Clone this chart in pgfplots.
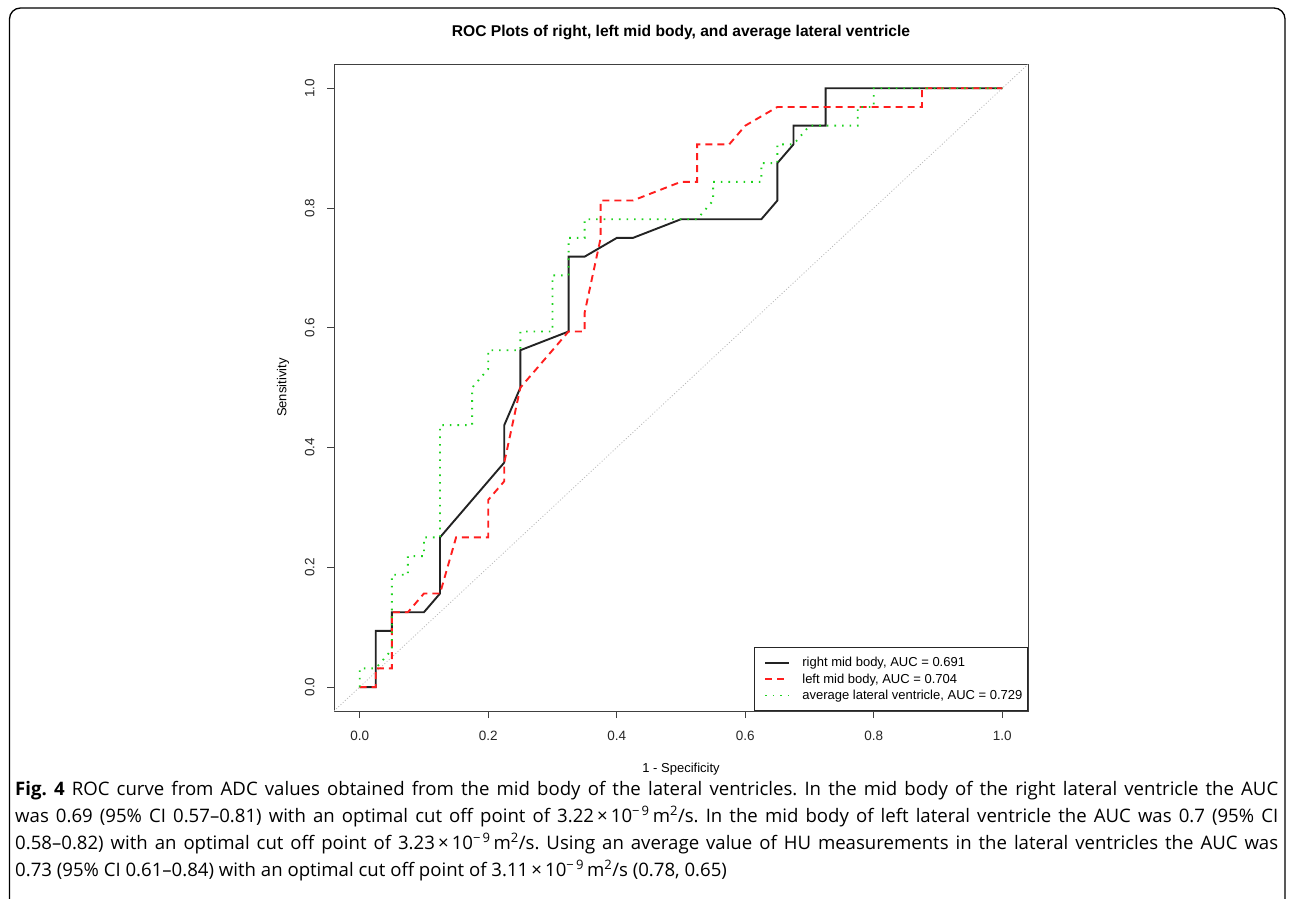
\documentclass[border=0pt]{standalone}
\usepackage{pgfplots}
\pgfplotsset{compat=1.18}
\usepackage{fontspec}
\setmainfont{Liberation Sans}
\newfontfamily\capfont{Open Sans}
\definecolor{rocred}{RGB}{255,30,30}
\definecolor{rocgreen}{RGB}{30,210,30}
\definecolor{rocblack}{RGB}{35,35,35}
\frenchspacing
\begin{document}
\begin{tikzpicture}[x=1pt,y=1pt]
\path[use as bounding box] (0,0) rectangle (1293,898);
\draw[line width=1.3pt, rounded corners=11pt] (9.5,-5) -- (9.5,890) -- (1285,890) -- (1285,-5);
\begin{axis}[
  scale only axis, width=694pt, height=646.7pt,
  at={(334pt,187pt)}, anchor=south west,
  xmin=-0.04, xmax=1.04, ymin=-0.04, ymax=1.04,
  xtick={0,0.2,0.4,0.6,0.8,1}, xticklabels={0.0,0.2,0.4,0.6,0.8,1.0},
  ytick={0,0.2,0.4,0.6,0.8,1}, yticklabels={0.0,0.2,0.4,0.6,0.8,1.0},
  xtick pos=left, ytick pos=left,
  tick align=outside, major tick length=7pt,
  tick style={black!75, line width=0.9pt},
  axis line style={black!75, line width=1pt},
  ticklabel style={font=\fontsize{13.5}{15}\selectfont, text=black!85},
  xticklabel style={anchor=north, yshift=-10pt},
  yticklabel style={xshift=-9pt, rotate=90, anchor=south},
  title={ROC Plots of right, left mid body, and average lateral ventricle},
  title style={at={(0.5,1.05)}, anchor=center, yshift=-7pt, font=\fontsize{15.6}{18}\selectfont\bfseries},
  xlabel={1 - Specificity},
  xlabel style={at={(0.5,-0.0866)}, anchor=center, yshift=-2pt, font=\fontsize{13}{15}\selectfont},
  ylabel={Sensitivity},
  ylabel style={at={(-0.0735,0.5)}, anchor=center, font=\fontsize{13}{15}\selectfont},
  legend style={at={(1,0)}, anchor=south east, draw=black!85, line width=0.8pt,
    fill=white, font=\fontsize{13}{15}\selectfont, inner xsep=4pt, inner ysep=6.9pt,
    cells={anchor=west}, nodes={inner sep=1.2pt, text height=11pt, text depth=3pt}},
  legend image code/.code={\path[draw=none] (0pt,0pt) -- (43pt,0pt); \draw[#1] (7pt,0pt) -- (31pt,0pt);},
]
\addplot[gray!55, line width=0.8pt, dash pattern=on 1pt off 2pt, forget plot] coordinates {(-0.04,-0.04) (1.04,1.04)};
\addplot[rocblack, line width=1.9pt] coordinates {
(0,0) (0.025,0) (0.025,0.09375) (0.05,0.09375) (0.05,0.125) (0.1,0.125)
(0.125,0.15625) (0.125,0.25) (0.225,0.375) (0.225,0.4375) (0.25,0.5)
(0.25,0.5625) (0.325,0.59375) (0.325,0.71875) (0.35,0.71875) (0.4,0.75)
(0.425,0.75) (0.5,0.78125) (0.625,0.78125) (0.65,0.8125) (0.65,0.875)
(0.675,0.90625) (0.675,0.9375) (0.725,0.9375) (0.725,1) (1,1)};
\addlegendentry{right mid body, AUC = 0.691}
\addplot[rocred, line width=1.9pt, dash pattern=on 7pt off 5pt] coordinates {
(0,0) (0.025,0) (0.025,0.03125) (0.05,0.03125) (0.05,0.125) (0.075,0.125)
(0.1,0.15625) (0.125,0.15625) (0.15,0.25) (0.2,0.25) (0.2,0.3125)
(0.225,0.34375) (0.225,0.375) (0.25,0.5) (0.325,0.59375) (0.35,0.59375)
(0.35,0.625) (0.375,0.75) (0.375,0.8125) (0.425,0.8125) (0.5,0.84375)
(0.525,0.84375) (0.525,0.90625) (0.575,0.90625) (0.6,0.9375) (0.65,0.96875)
(0.875,0.96875) (0.875,1) (1,1)};
\addlegendentry{left mid body, AUC = 0.704}
\addplot[rocgreen, line width=1.9pt, dash pattern=on 1.6pt off 6pt] coordinates {
(0,0) (0,0.03125) (0.025,0.03125) (0.05,0.0625) (0.05,0.1875) (0.075,0.1875)
(0.075,0.21875) (0.1,0.21875) (0.1,0.25) (0.125,0.25) (0.125,0.4375)
(0.175,0.4375) (0.175,0.5) (0.2,0.53125) (0.2,0.5625) (0.25,0.5625)
(0.25,0.59375) (0.3,0.59375) (0.3,0.6875) (0.325,0.6875) (0.325,0.75)
(0.35,0.75) (0.35,0.78125) (0.525,0.78125) (0.55,0.8125) (0.55,0.84375)
(0.625,0.84375) (0.625,0.875) (0.65,0.875) (0.65,0.90625) (0.675,0.90625)
(0.7,0.9375) (0.775,0.9375) (0.775,0.96875) (0.8,0.96875) (0.8,1) (1,1)};
\addlegendentry{average lateral ventricle, AUC = 0.729}
\end{axis}
\begin{scope}[font=\capfont\fontsize{18.6}{20}\selectfont]
\node[anchor=base west, inner sep=0] at (15,103) {\makebox[1263pt][s]{\textbf{Fig. 4} ROC curve from ADC values obtained from the mid body of the lateral ventricles. In the mid body of the right lateral ventricle the AUC}};
\node[anchor=base west, inner sep=0] at (15,76) {\makebox[1263pt][s]{was 0.69 (95\% CI 0.57–0.81) with an optimal cut off point of 3.22\,×\,10\textsuperscript{−\,9}\,m\textsuperscript{2}/s. In the mid body of left lateral ventricle the AUC was 0.7 (95\% CI}};
\node[anchor=base west, inner sep=0] at (15,49) {\makebox[1263pt][s]{0.58–0.82) with an optimal cut off point of 3.23\,×\,10\textsuperscript{−\,9}\,m\textsuperscript{2}/s. Using an average value of HU measurements in the lateral ventricles the AUC was}};
\node[anchor=base west, inner sep=0] at (15,22) {0.73 (95\% CI 0.61–0.84) with an optimal cut off point of 3.11\,×\,10\textsuperscript{−\,9}\,m\textsuperscript{2}/s (0.78, 0.65)};
\end{scope}
\end{tikzpicture}
\end{document}
